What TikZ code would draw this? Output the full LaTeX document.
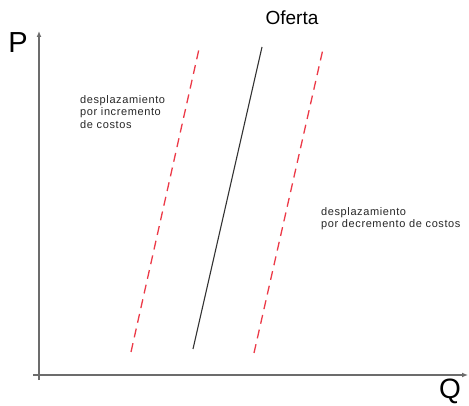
\documentclass[tikz,border=0pt]{standalone}
\usepackage{fontspec}
\setmainfont{Liberation Sans}
\usetikzlibrary{arrows.meta}
\definecolor{shiftred}{RGB}{236,58,72}
\tikzset{
  axis/.style={draw=gray!85!black,line width=1.6pt,-{Latex[length=6pt,width=5pt]}},
  shifted/.style={draw=shiftred,line width=1.3pt,dash pattern=on 9pt off 6pt},
  note/.style={anchor=north west,align=left,inner sep=0pt,text=black!85,
    font=\fontsize{11}{12.5}\selectfont\addfontfeature{LetterSpace=5.5}}
}
\begin{document}
\begin{tikzpicture}[x=1pt,y=-1pt]
\useasboundingbox (0,0) rectangle (469,406);
% axes
\coordinate (origin) at (39,375);
\coordinate (ptop) at (39,31);
\coordinate (qend) at (468,375);
\draw[axis] (39,380) -- (ptop);
\draw[axis] (33,375) -- (qend);
\node (plabel) at (18,43){\fontsize{29}{29}\selectfont P};
\node (qlabel) at (450,391){\fontsize{28}{28}\selectfont Q};
% supply curve
\coordinate (s0) at (193,349);
\coordinate (s1) at (262,47);
\draw[line width=1.1pt,black!80] (s0) -- (s1);
\node (oferta) at (292,18){\fontsize{19}{19}\selectfont Oferta};
% shifted curves
\coordinate (l0) at (131,352);
\coordinate (l1) at (199,49);
\coordinate (r0) at (254,353);
\coordinate (r1) at (323,49);
\draw[shifted] (l0) -- (l1);
\draw[shifted] (r0) -- (r1);
\node[note] (incr) at (80,95){desplazamiento\\por incremento\\de costos};
\node[note] (decr) at (321,207){desplazamiento\\por decremento de costos};
\end{tikzpicture}
\end{document}
